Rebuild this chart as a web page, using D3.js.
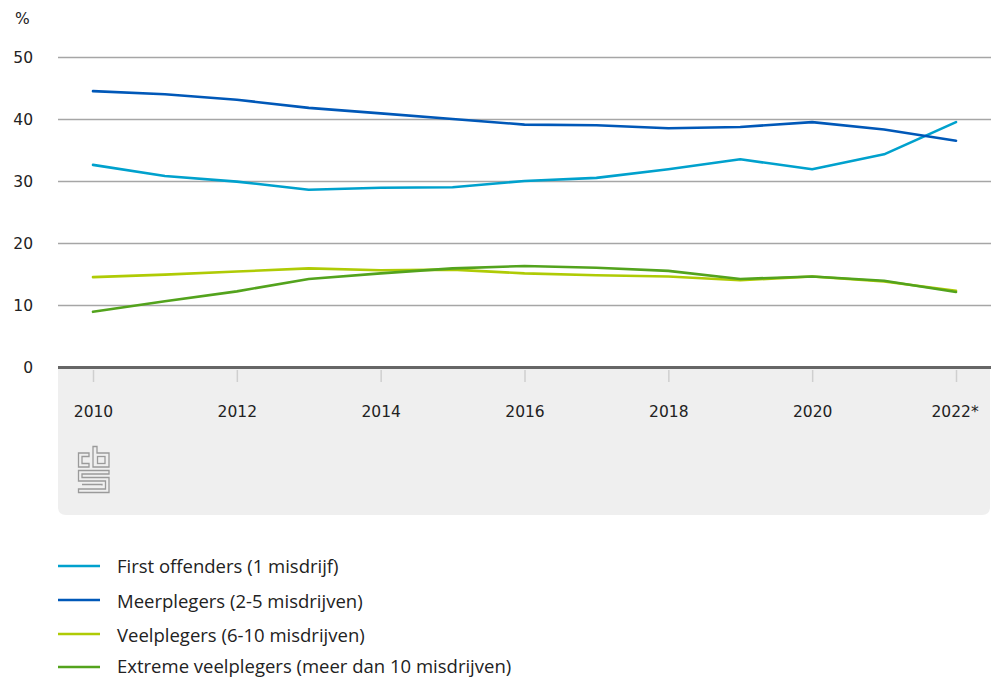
<!DOCTYPE html>
<html>
<head>
<meta charset="utf-8">
<script src="https://cdn.jsdelivr.net/npm/d3@7"></script>
<style>
  html, body { margin: 0; padding: 0; background: #fff; }
  svg { display: block; }
</style>
</head>
<body>
<svg id="chart" width="991" height="679"></svg>
<script>
// Jaren en reeksen (% van de verdachten)
const years = [2010, 2011, 2012, 2013, 2014, 2015, 2016, 2017, 2018, 2019, 2020, 2021, 2022];
const firstOffenders = [32.6, 30.8, 29.9, 28.6, 28.9, 29.0, 30.0, 30.5, 31.9, 33.5, 31.9, 34.3, 39.5];
const meerplegers    = [44.5, 44.0, 43.1, 41.8, 40.9, 40.0, 39.1, 39.0, 38.5, 38.7, 39.5, 38.3, 36.5];
const veelplegers    = [14.5, 14.9, 15.4, 15.9, 15.6, 15.7, 15.1, 14.8, 14.6, 14.0, 14.6, 13.8, 12.3];
const extreme        = [8.9, 10.6, 12.2, 14.2, 15.1, 15.9, 16.3, 16.0, 15.5, 14.2, 14.6, 13.9, 12.1];

const yTicks = [0, 10, 20, 30, 40, 50];
const xTicks = [2010, 2012, 2014, 2016, 2018, 2020, 2022];
const xTickLabels = ["2010", "2012", "2014", "2016", "2018", "2020", "2022*"];

const seriesNames = [
  "First offenders (1 misdrijf)",
  "Meerplegers (2-5 misdrijven)",
  "Veelplegers (6-10 misdrijven)",
  "Extreme veelplegers (meer dan 10 misdrijven)"
];
const seriesColors = ["#00a1cd", "#0058b8", "#afcb05", "#53a31d"];
const seriesValues = [firstOffenders, meerplegers, veelplegers, extreme];

const svg = d3.select("#chart");
const plotLeft = 58, plotRight = 991;

const x = d3.scaleLinear().domain([2010, 2022]).range([93, 956]);
const y = d3.scaleLinear().domain([0, 50]).range([367, 57]);

const tickFont = "'DejaVu Sans', sans-serif";
const legendFont = "'Open Sans', sans-serif";

// grijs paneel onder de x-as
svg.append("path")
  .attr("fill", "#efefef")
  .attr("d", (() => {
    const x0 = plotLeft, x1 = 990, y0 = 368, y1 = 515, r = 8;
    return `M${x0},${y0} H${x1} V${y1 - r} Q${x1},${y1} ${x1 - r},${y1} H${x0 + r} Q${x0},${y1} ${x0},${y1 - r} Z`;
  })());

// rasterlijnen en y-as labels
const yAxis = d3.axisLeft(y).tickValues(yTicks).tickSize(0).tickPadding(0);
const gy = svg.append("g").call(yAxis);
gy.select(".domain").remove();
gy.selectAll("text")
  .attr("x", 33)
  .attr("text-anchor", "end")
  .attr("font-family", tickFont)
  .attr("font-size", 15.5)
  .attr("fill", "#222")
  .attr("dy", "0.35em");
gy.selectAll(".tick").append("line")
  .attr("x1", plotLeft).attr("x2", plotRight)
  .attr("stroke", d => d === 0 ? "#666" : "#a6a6a6")
  .attr("stroke-width", d => d === 0 ? 3 : 1.3);

svg.append("text")
  .attr("x", 15).attr("y", 24)
  .attr("font-family", tickFont)
  .attr("font-size", 15.5)
  .attr("fill", "#222")
  .text("%");

// x-as met streepjes en jaartallen
const xAxis = d3.axisBottom(x).tickValues(xTicks).tickSize(0)
  .tickFormat((d, i) => xTickLabels[i]);
const gx = svg.append("g").attr("transform", "translate(0,369)").call(xAxis);
gx.select(".domain").remove();
gx.selectAll(".tick").append("line")
  .attr("y1", 1).attr("y2", 13)
  .attr("stroke", "#cfcfcf").attr("stroke-width", 1.5);
gx.selectAll("text")
  .attr("y", 43)
  .attr("dy", "0.35em")
  .attr("font-family", tickFont)
  .attr("font-size", 15.5)
  .attr("fill", "#222")
  .attr("text-anchor", (d, i) => i === xTicks.length - 1 ? "start" : "middle")
  .attr("dx", (d, i) => i === xTicks.length - 1 ? -25 : 0);

// lijnen
const line = d3.line()
  .x((d, i) => x(years[i]))
  .y(d => y(d));

seriesValues.forEach((vals, k) => {
  svg.append("path")
    .datum(vals)
    .attr("fill", "none")
    .attr("stroke", seriesColors[k])
    .attr("stroke-width", 2.6)
    .attr("stroke-linejoin", "round")
    .attr("stroke-linecap", "round")
    .attr("d", line);
});

// logo
const logo = svg.append("g")
  .attr("transform", "translate(78,446)")
  .attr("fill", "none")
  .attr("stroke", "#9a9a9a")
  .attr("stroke-width", 1.3);
// c
logo.append("path").attr("d", "M11,7 H0.5 V21 H11 V17.5 H4 V10.5 H11 Z");
// b
logo.append("path").attr("d", "M15,0.5 H19 V7 H31 V21 H15 Z");
logo.append("rect").attr("x", 19.5).attr("y", 10.5).attr("width", 7.5).attr("height", 7);
// S
logo.append("path").attr("d", "M0.5,24.5 H31 V28 H4 V31.5 H31 V46.5 H0.5 V43 H27.5 V35 H0.5 Z");
logo.append("path").attr("d", "M4,38.5 H24 V39.5");

// legenda
const legend = svg.append("g");
const legendLineY = [566, 600, 634, 667];
const legendTextY = [573, 607.5, 641.5, 672.5];
seriesNames.forEach((name, k) => {
  legend.append("line")
    .attr("x1", 58).attr("x2", 100)
    .attr("y1", legendLineY[k]).attr("y2", legendLineY[k])
    .attr("stroke", seriesColors[k]).attr("stroke-width", 2.5);
  legend.append("text")
    .attr("x", 117).attr("y", legendTextY[k])
    .attr("font-family", legendFont)
    .attr("font-size", 18.5)
    .attr("fill", "#222")
    .text(name);
});
</script>
</body>
</html>
